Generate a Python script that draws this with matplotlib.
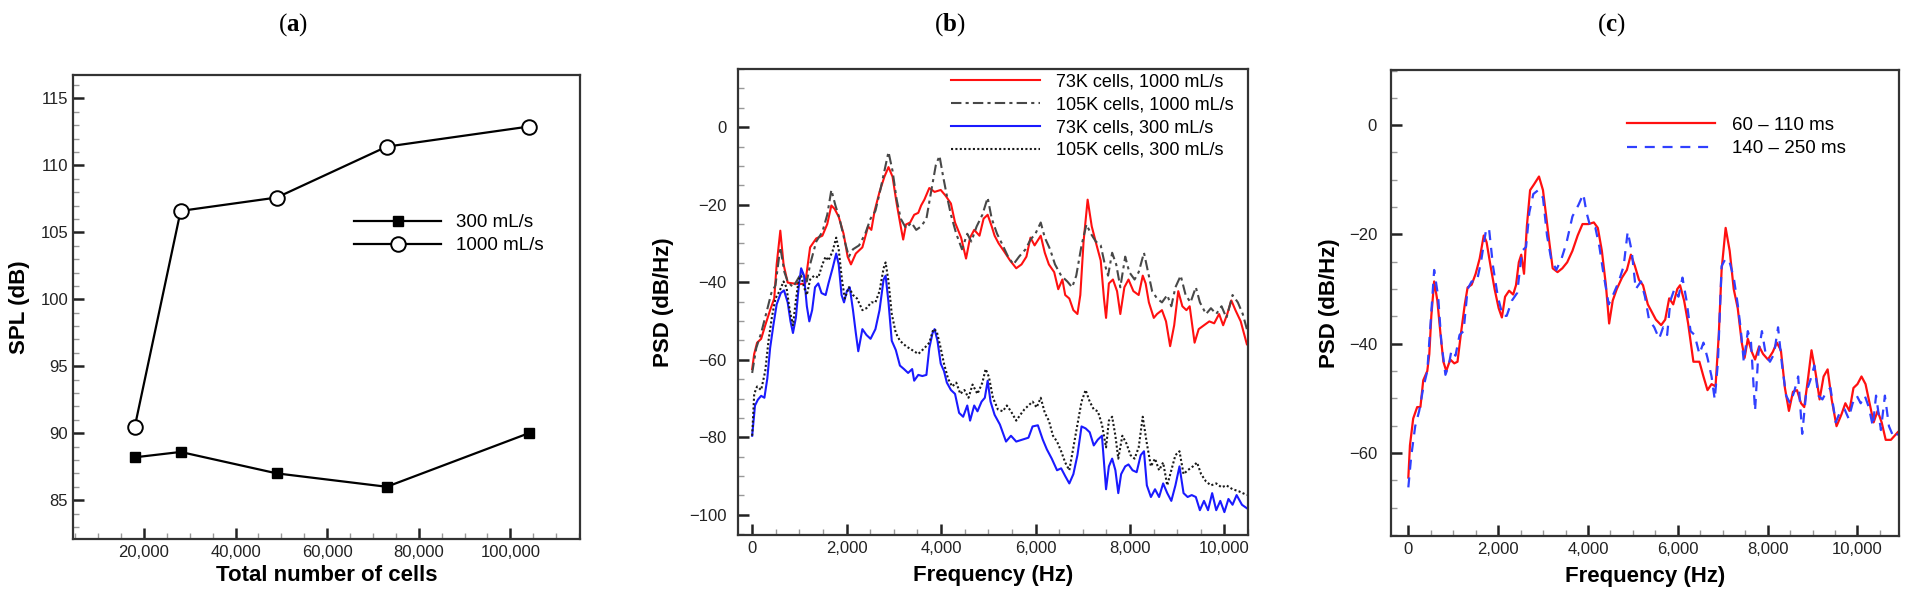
import numpy as np
import matplotlib
matplotlib.use("Agg")
import matplotlib.pyplot as plt
from matplotlib.ticker import MultipleLocator, FuncFormatter

plt.rcParams['font.family'] = ['Liberation Sans', 'DejaVu Sans']
plt.rcParams['mathtext.fontset'] = 'custom'
plt.rcParams['mathtext.rm'] = 'Liberation Serif'
plt.rcParams['mathtext.bf'] = 'Liberation Serif:bold'

# (a) grid convergence
cells = [18000, 28000, 49000, 73000, 104000]
spl_300 = [88.2, 88.6, 87.0, 86.0, 90.0]
spl_1000 = [90.5, 106.6, 107.6, 111.4, 112.9]

# (b) PSD, mesh comparison
fb_red = [0, 43, 104, 190, 277, 380, 467, 519, 596, 665, 752, 864, 1011, 1124, 1227, 1357, 1487, 1590, 1677, 1746,
          1832, 1936, 2022, 2092, 2195, 2334, 2455, 2524, 2593, 2697, 2800, 2887, 2973, 3060, 3146, 3198, 3258, 3345,
          3431, 3518, 3578, 3647, 3751, 3863, 3993, 4097, 4209, 4296, 4425, 4529, 4615, 4702, 4814, 4901, 4987, 5073,
          5134, 5220, 5333, 5462, 5592, 5704, 5808, 5894, 5981, 6111, 6197, 6283, 6396, 6482, 6569, 6629, 6716, 6802,
          6888, 6949, 7018, 7104, 7191, 7295, 7381, 7450, 7494, 7554, 7640, 7727, 7796, 7882, 7969, 8073, 8185, 8271,
          8332, 8401, 8505, 8574, 8678, 8764, 8851, 8937, 9023, 9110, 9196, 9265, 9369, 9456, 9568, 9681, 9784, 9888,
          9974, 10061, 10147, 10234, 10346, 10476]
pb_red = [-62.4, -58.5, -55.6, -54.6, -51.1, -47.2, -44.2, -35.4, -26.7, -35.4, -40.1, -40.3, -40.5, -40.3, -31, -28.7,
          -28, -25, -20.2, -21.1, -23.1, -27.5, -33.4, -35.4, -32.6, -31, -25.6, -26.5, -21.6, -16.7, -12.8, -10.3,
          -12.8, -19.7, -25.6, -29, -25.1, -24.6, -22.6, -22.1, -20.2, -18.7, -15.7, -16.7, -16.2, -17.7, -19.7, -24.6,
          -28.5, -33.9, -28.5, -26.5, -28, -23.6, -22.6, -25.6, -28, -30, -32, -34.4, -36.4, -35.4, -33.4, -28.5,
          -30.5, -28, -32.4, -35.4, -37.4, -41.8, -39.3, -43.3, -44.2, -47.2, -48.2, -43.3, -29.5, -18.7, -25.6, -30.5,
          -34.4, -44.2, -49.2, -40.3, -39.3, -42.3, -48.2, -41.3, -39.3, -42.3, -43.3, -38.3, -40.3, -45.2, -49.2,
          -48.2, -47.2, -50.1, -56.5, -51.1, -42.3, -46.2, -47.2, -46.2, -55.6, -52.1, -51.1, -50.1, -50.6, -48.2,
          -51.1, -48.2, -44.7, -47.2, -50.1, -56]

fb_gray = [0, 86, 190, 294, 406, 493, 596, 683, 752, 864, 985, 1054, 1158, 1227, 1357, 1487, 1590, 1677, 1763, 1850,
           1962, 2048, 2135, 2264, 2394, 2507, 2610, 2714, 2800, 2887, 2973, 3060, 3146, 3258, 3371, 3474, 3578, 3690,
           3803, 3889, 3967, 4045, 4123, 4209, 4322, 4443, 4555, 4641, 4754, 4875, 4987, 5073, 5186, 5307, 5419, 5532,
           5652, 5790, 5894, 5998, 6111, 6197, 6309, 6413, 6543, 6673, 6776, 6863, 6975, 7079, 7174, 7277, 7381, 7468,
           7537, 7623, 7709, 7796, 7900, 7986, 8098, 8185, 8297, 8384, 8470, 8574, 8678, 8790, 8876, 8963, 9075, 9179,
           9283, 9395, 9482, 9611, 9715, 9827, 9940, 10043, 10173, 10285, 10389, 10476]
pb_gray = [-63.4, -57, -53.1, -48.2, -42.8, -40.8, -31, -37.4, -39.8, -41.3, -38.8, -37.4, -39.8, -35.4, -29.5, -27,
           -22.6, -16.2, -20.2, -23.6, -29.5, -33.4, -31.5, -30.5, -27.5, -23.6, -21.6, -16.2, -11.3, -6.4, -11.3,
           -18.7, -23.6, -26.1, -24.6, -26.5, -25.6, -23.6, -15.7, -9.8, -7.4, -12.8, -17.7, -22.6, -27.5, -31.5,
           -27.5, -29.5, -25.6, -22.6, -18.2, -23.6, -27.5, -30.5, -33.4, -35.4, -33.4, -31.5, -29, -27.5, -24.6,
           -28.5, -31.5, -35.4, -38.3, -39.8, -41.3, -38.3, -30.5, -25.1, -27.5, -29.5, -30.5, -35.4, -38.3, -32.4,
           -35.4, -41.3, -33.4, -37.4, -39.3, -37.4, -32.4, -37.4, -42.3, -44.2, -45.2, -43.3, -46.2, -41.3, -38.3,
           -43.3, -45.2, -41.3, -45.2, -48.2, -46.7, -48.2, -46.2, -49.2, -43.3, -45.2, -48.2, -52.1]

fb_blue = [0, 60, 121, 190, 259, 320, 380, 449, 519, 605, 674, 752, 812, 864, 925, 985, 1037, 1098, 1158, 1210, 1270,
           1331, 1400, 1469, 1556, 1616, 1703, 1780, 1832, 1893, 1945, 2005, 2066, 2135, 2195, 2247, 2334, 2420, 2507,
           2610, 2697, 2783, 2826, 2887, 2956, 3042, 3129, 3215, 3302, 3388, 3431, 3518, 3604, 3690, 3751, 3820, 3863,
           3924, 3993, 4062, 4123, 4209, 4296, 4382, 4468, 4555, 4615, 4702, 4771, 4858, 4927, 4987, 5048, 5134, 5246,
           5376, 5480, 5592, 5722, 5851, 5938, 6050, 6154, 6240, 6344, 6456, 6543, 6629, 6716, 6802, 6888, 6975, 7061,
           7148, 7234, 7320, 7407, 7494, 7554, 7623, 7692, 7753, 7813, 7900, 7969, 8055, 8142, 8228, 8297, 8358, 8444,
           8531, 8617, 8703, 8790, 8876, 8963, 9049, 9135, 9222, 9308, 9395, 9481, 9568, 9654, 9741, 9827, 9913, 10000,
           10086, 10173, 10259, 10372, 10476]
pb_blue = [-79.6, -71.8, -70.3, -69.3, -69.8, -64.9, -57, -51.1, -45.7, -42.8, -42.1, -45.2, -50.1, -53.1, -49.2, -41.3,
           -36.4, -38.3, -46.2, -50.1, -47.2, -41.3, -40.3, -42.8, -43.3, -40.3, -36.4, -32.6, -35.4, -43.3, -45.2,
           -42.3, -41.3, -47.2, -53.1, -57.8, -52.1, -53.6, -54.6, -52.1, -47.2, -39.3, -38.3, -45.2, -55.1, -57.5,
           -61.5, -62.4, -63.4, -62.4, -65.4, -63.9, -64.2, -63.9, -57, -53.1, -52.1, -55.1, -61, -62.9, -65.9, -67.8,
           -68.8, -73.7, -74.7, -71.8, -75.7, -71.8, -73.3, -70.8, -69.8, -65.4, -70.8, -74.2, -76.7, -81.1, -79.6,
           -81.1, -80.6, -80.1, -77.2, -76.9, -80.6, -83.1, -85.5, -88.5, -88, -90, -91.9, -89.5, -84.6, -77.2, -77.7,
           -78.7, -82.1, -80.6, -79.6, -93.4, -87.5, -85.5, -88.5, -94.4, -89.5, -87.5, -87, -88.5, -89, -84.6, -83.6,
           -92.4, -95.4, -93.4, -95.4, -91.9, -94.4, -96.4, -92.4, -87.5, -94.4, -95.4, -94.9, -95.4, -98.8, -96.4,
           -98.8, -94.4, -98.8, -96.4, -99.3, -95.9, -97.4, -94.9, -97.4, -98.3]

fb_black = [0, 43, 104, 190, 277, 346, 415, 493, 579, 665, 726, 795, 864, 925, 985, 1037, 1098, 1158, 1227, 1314,
            1400, 1487, 1556, 1616, 1703, 1780, 1832, 1901, 1962, 2048, 2135, 2221, 2334, 2420, 2524, 2610, 2697, 2783,
            2826, 2887, 2956, 3042, 3129, 3258, 3388, 3518, 3647, 3751, 3837, 3907, 3993, 4062, 4149, 4235, 4322, 4408,
            4494, 4581, 4667, 4771, 4875, 4944, 5013, 5099, 5203, 5307, 5393, 5480, 5592, 5678, 5765, 5851, 5938, 6024,
            6111, 6197, 6283, 6370, 6456, 6543, 6629, 6716, 6802, 6888, 6975, 7061, 7148, 7234, 7320, 7407, 7494, 7554,
            7623, 7692, 7753, 7839, 7926, 8012, 8098, 8185, 8271, 8358, 8444, 8531, 8617, 8703, 8790, 8876, 8963, 9049,
            9135, 9222, 9334, 9421, 9507, 9611, 9715, 9827, 9940, 10043, 10173, 10302, 10476]
pb_black = [-79.6, -68.8, -66.9, -67.8, -62.9, -55.1, -49.2, -44.2, -42.3, -39.8, -41.3, -47.2, -51.1, -44.7, -39.3,
            -38.3, -41.3, -43.3, -39.3, -38.3, -38.8, -35.4, -33.4, -34.4, -32, -28.5, -31.5, -39.3, -44.2, -41.3,
            -43.3, -44.2, -47.2, -46.7, -45.2, -45.2, -42.3, -36.4, -34.9, -39.8, -48.2, -53.1, -55.1, -56.5, -57.5,
            -58.5, -57, -55.6, -52.1, -52.6, -57, -61, -64.9, -66.9, -65.9, -68.8, -67.8, -69.8, -66.4, -68.8, -65.9,
            -62.4, -64.4, -69.8, -72.8, -73.3, -71.8, -73.3, -75.7, -74.2, -72.8, -71.8, -70.8, -72.3, -69.8, -73.7,
            -75.7, -79.6, -81.1, -83.6, -86.5, -88.5, -82.6, -76.7, -70.8, -67.8, -70.8, -72.8, -73.3, -76.7, -82.6,
            -75.7, -74.7, -79.6, -85.5, -79.6, -81.6, -84.6, -85.5, -82.6, -74.7, -81.6, -87.5, -85.5, -88.5, -86.5,
            -92.4, -88.5, -84.6, -83.6, -89.5, -88.5, -87.5, -86.5, -89.5, -91.4, -92.4, -91.9, -92.9, -92.4, -93.4,
            -93.9, -94.9]

# (c) PSD, time windows
fc_red = [0, 36, 108, 197, 269, 332, 422, 467, 512, 575, 646, 718, 781, 844, 934, 1023, 1095, 1167, 1257, 1320, 1409,
          1499, 1589, 1679, 1742, 1831, 1921, 2011, 2083, 2154, 2244, 2334, 2397, 2460, 2514, 2576, 2639, 2711, 2801,
          2909, 2998, 3070, 3142, 3214, 3322, 3429, 3537, 3654, 3770, 3878, 4013, 4130, 4219, 4309, 4399, 4471, 4551,
          4641, 4758, 4866, 4955, 5045, 5135, 5225, 5332, 5422, 5512, 5629, 5719, 5808, 5898, 5988, 6050, 6140, 6230,
          6347, 6481, 6571, 6661, 6751, 6840, 6912, 6975, 7065, 7155, 7245, 7334, 7424, 7487, 7559, 7648, 7720, 7810,
          7900, 8007, 8115, 8205, 8295, 8385, 8474, 8564, 8654, 8744, 8815, 8905, 8977, 9067, 9157, 9246, 9336, 9426,
          9534, 9641, 9731, 9821, 9911, 10000, 10090, 10180, 10270, 10360, 10449, 10539, 10629, 10745, 10898]
pc_red = [-64.5, -58.6, -53.7, -51.6, -51.6, -46.7, -45, -41.9, -34.9, -28.6, -32.1, -38.4, -43.3, -45, -42.9, -43.6,
          -43.3, -38.4, -32.8, -29.7, -29.2, -27.2, -24.4, -20.2, -21.4, -25.8, -30, -33.5, -35.2, -31.4, -30.3, -31,
          -29.3, -25.1, -23.7, -27.2, -18.5, -11.9, -10.8, -9.4, -11.9, -16.7, -21.6, -26.2, -26.9, -26.2, -25.1, -23,
          -20.2, -18.1, -18.1, -17.8, -18.8, -23, -29.3, -36.3, -32.1, -30, -27.9, -26.5, -23.7, -25.8, -28.3, -29.3,
          -32.8, -34.2, -35.6, -36.6, -35.6, -31.7, -32.8, -30, -29.3, -32.1, -36.3, -43.3, -43.3, -46, -48.5, -47.4,
          -47.8, -38.4, -26.5, -18.8, -23, -30, -33.5, -39.8, -42.6, -39.1, -41.5, -42.9, -40.5, -41.9, -42.9, -41.5,
          -39.8, -41.2, -48.1, -52.3, -48.8, -48.5, -50.9, -51.6, -46, -41.2, -45.3, -50.2, -46, -44.7, -50.2, -55.1,
          -53, -50.9, -52.3, -48.1, -47.4, -46, -47.4, -50.9, -54.4, -52.3, -54.4, -57.6, -57.6, -56.2]

fc_blue = [0, 63, 153, 242, 332, 422, 512, 575, 664, 736, 826, 898, 961, 1050, 1140, 1230, 1320, 1409, 1526, 1616,
           1724, 1795, 1885, 1993, 2101, 2190, 2307, 2424, 2532, 2621, 2693, 2783, 2891, 2998, 3088, 3178, 3295, 3412,
           3519, 3654, 3788, 3896, 3968, 4058, 4165, 4255, 4345, 4462, 4578, 4686, 4794, 4884, 4973, 5063, 5180, 5269,
           5359, 5476, 5584, 5673, 5763, 5835, 5925, 6015, 6104, 6194, 6284, 6374, 6481, 6571, 6661, 6751, 6822, 6894,
           6975, 7065, 7155, 7245, 7334, 7397, 7469, 7559, 7630, 7720, 7792, 7873, 7963, 8052, 8142, 8232, 8322, 8411,
           8501, 8591, 8680, 8770, 8860, 8950, 9040, 9130, 9220, 9309, 9399, 9516, 9623, 9713, 9803, 9893, 9983, 10072,
           10162, 10252, 10342, 10414, 10522, 10611, 10701, 10809, 10898]
pc_blue = [-66.3, -60.7, -55.1, -52.3, -48.1, -45, -34.2, -26.5, -31.4, -39.8, -45.7, -44, -41.2, -42.2, -38.4, -37.7,
           -30, -28.6, -28.6, -25.1, -19.5, -18.8, -25.8, -31.4, -34.9, -34.9, -32.1, -30.7, -23, -22.3, -16, -12.6,
           -11.9, -13.3, -20.2, -24.4, -26.5, -24.4, -21.6, -16.7, -14.6, -12.6, -16, -18.8, -18.8, -22.3, -27.2,
           -32.8, -30.7, -28.6, -25.8, -19.5, -23, -30, -28.6, -31.4, -35.6, -37, -39.1, -37, -38.4, -32.1, -30, -31.4,
           -27.9, -32.1, -37.7, -38.4, -41.9, -39.8, -42.6, -46, -50.2, -43.3, -25.8, -24.4, -25.1, -27.9, -32.8, -37,
           -43.3, -37.7, -39.8, -52.3, -41.9, -37.7, -42.2, -43.3, -41.9, -37, -44, -49.5, -50.9, -48.8, -46, -56.5,
           -48.8, -46.7, -44, -49.5, -50.2, -48.8, -48.1, -54.4, -52.3, -52, -53.7, -50.9, -49.5, -50.9, -49.5, -51.6,
           -55.1, -49.5, -55.8, -49.5, -55.1, -57.2, -56.5]

for fx, py in [(fb_red, pb_red), (fb_gray, pb_gray), (fb_blue, pb_blue), (fb_black, pb_black),
               (fc_red, pc_red), (fc_blue, pc_blue)]:
    assert len(fx) == len(py), (len(fx), len(py))

W, H = 1914, 596
fig = plt.figure(figsize=(W / 100, H / 100), dpi=100)


def box(l, r, t, b):
    return [l / W, 1 - b / H, (r - l) / W, (b - t) / H]


ax_a = fig.add_axes(box(73, 580, 75, 539))
ax_b = fig.add_axes(box(738, 1248, 69, 535))
ax_c = fig.add_axes(box(1391, 1899, 70, 536))

comma = FuncFormatter(lambda v, p: f'{int(round(v)):,}')
minus = FuncFormatter(lambda v, p: f'{v:g}'.replace('-', '\u2212'))


def style(ax, ypad):
    for s in ax.spines.values():
        s.set_linewidth(1.6)
        s.set_color('#333333')
    ax.tick_params(which='both', direction='in', top=False, right=False, labelsize=12,
                   labelcolor='#222222')
    ax.tick_params(axis='x', which='both', pad=4.5)
    ax.tick_params(axis='y', which='both', pad=ypad)
    ax.tick_params(which='major', length=8, width=1.8, color='#222222')
    ax.tick_params(which='minor', length=4.5, width=1.0, color='#999999')


# (a)
style(ax_a, 3.5)
ax_a.plot(cells, spl_300, '-', color='black', lw=1.6, marker='s', ms=7, label='300 mL/s')
ax_a.plot(cells, spl_1000, '-', color='black', lw=1.6, marker='o', ms=10.5, mfc='white', mew=1.4,
          label='1000 mL/s')
ax_a.set_xlim(4500, 115200)
ax_a.set_ylim(82.1, 116.75)
ax_a.xaxis.set_minor_locator(MultipleLocator(5000))
ax_a.yaxis.set_major_locator(MultipleLocator(5))
ax_a.yaxis.set_minor_locator(MultipleLocator(1))
ax_a.set_xticks([20000, 40000, 60000, 80000, 100000])
ax_a.xaxis.set_major_formatter(comma)
ax_a.set_xlabel('Total number of cells', fontsize=16, fontweight='bold')
ax_a.set_ylabel('SPL (dB)', fontsize=16, fontweight='bold')
ax_a.xaxis.set_label_coords(0.5, -0.057)
ax_a.yaxis.set_label_coords(-0.085, 0.5)
ax_a.legend(loc='upper left', bbox_to_anchor=(0.555, 0.7), frameon=False, fontsize=13.5,
            handlelength=4.6, handletextpad=0.8, labelspacing=0.3, borderpad=0, borderaxespad=0)

# (b)
style(ax_b, 8)
ax_b.plot(fb_red, pb_red, color='#ff1010', lw=1.5, label='73K cells, 1000 mL/s')
ax_b.plot(fb_gray, pb_gray, color='#484848', lw=1.5, ls=(0, (5, 2, 1.5, 2)), label='105K cells, 1000 mL/s')
ax_b.plot(fb_blue, pb_blue, color='#1a1aff', lw=1.5, label='73K cells, 300 mL/s')
ax_b.plot(fb_black, pb_black, color='#1a1a1a', lw=1.5, ls=(0, (1, 1.1)), label='105K cells, 300 mL/s')
ax_b.set_xlim(-300, 10500)
ax_b.set_ylim(-105.2, 15)
ax_b.xaxis.set_major_locator(MultipleLocator(2000))
ax_b.xaxis.set_minor_locator(MultipleLocator(500))
ax_b.yaxis.set_major_locator(MultipleLocator(20))
ax_b.yaxis.set_minor_locator(MultipleLocator(5))
ax_b.xaxis.set_major_formatter(comma)
ax_b.yaxis.set_major_formatter(minus)
ax_b.set_xlabel('Frequency (Hz)', fontsize=16, fontweight='bold')
ax_b.set_ylabel('PSD (dB/Hz)', fontsize=16, fontweight='bold')
ax_b.xaxis.set_label_coords(0.5, -0.064)
ax_b.yaxis.set_label_coords(-0.125, 0.5)
ax_b.legend(loc='upper left', bbox_to_anchor=(0.418, 0.99), frameon=False, fontsize=13,
            handlelength=4.9, handletextpad=0.9, labelspacing=0.32, borderpad=0, borderaxespad=0)

# (c)
style(ax_c, 10)
ax_c.plot(fc_red, pc_red, color='#ff1010', lw=1.6, label='60 \u2013 110 ms')
ax_c.plot(fc_blue, pc_blue, color='#3040ff', lw=1.6, ls=(0, (4.5, 3.5)), label='140 \u2013 250 ms')
ax_c.set_xlim(-386, 10925)
ax_c.set_ylim(-75.2, 10.1)
ax_c.xaxis.set_major_locator(MultipleLocator(2000))
ax_c.xaxis.set_minor_locator(MultipleLocator(500))
ax_c.yaxis.set_major_locator(MultipleLocator(20))
ax_c.yaxis.set_minor_locator(MultipleLocator(5))
ax_c.xaxis.set_major_formatter(comma)
ax_c.yaxis.set_major_formatter(minus)
ax_c.set_xlabel('Frequency (Hz)', fontsize=16, fontweight='bold')
ax_c.set_ylabel('PSD (dB/Hz)', fontsize=16, fontweight='bold')
ax_c.xaxis.set_label_coords(0.5, -0.064)
ax_c.yaxis.set_label_coords(-0.1, 0.5)
ax_c.legend(loc='upper left', bbox_to_anchor=(0.464, 0.9), frameon=False, fontsize=13.5,
            handlelength=4.7, handletextpad=0.9, labelspacing=0.35, borderpad=0, borderaxespad=0)

# panel letters
for x, letter in [(293, 'a'), (950, 'b'), (1611, 'c')]:
    fig.text(x / W, 1 - 25 / H, '(' + r'$\mathbf{' + letter + '}$' + ')', ha='center', va='center',
             fontsize=18, family='Liberation Serif')

fig.savefig('out.png', dpi=100)
